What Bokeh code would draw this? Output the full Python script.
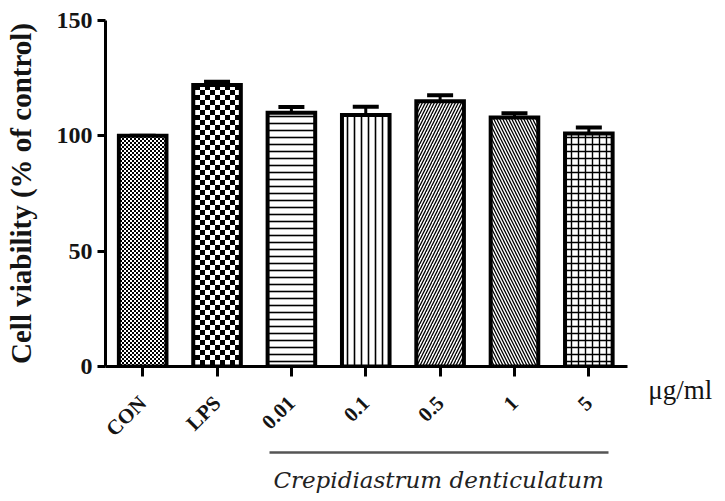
import math, zlib, struct, base64
from bokeh.plotting import figure
from bokeh.models import (ColumnDataSource, Range1d, FixedTicker, Whisker, TeeHead,
                          Label, LinearAxis, ImageURLTexture)
from bokeh.embed import file_html
from bokeh.resources import INLINE

# ---- data ----
categories = ["CON", "LPS", "0.01", "0.1", "0.5", "1", "5"]
viability = [100, 122, 110, 109, 115, 108, 101]
sem = [0, 1.5, 2.5, 3.6, 2.6, 1.8, 2.6]
y_ticks = [0, 50, 100, 150]
unit_label = "μg/ml"
group_label = "Crepidiastrum denticulatum"
group_members = ["0.01", "0.1", "0.5", "1", "5"]

# ---- checker textures (small PNG data URLs) ----
def checker_url(cell):
    n = 2 * cell
    rows = []
    for r in range(n):
        row = bytearray()
        for c in range(n):
            black = ((r // cell) + (c // cell)) % 2 == 0
            row.append(0 if black else 255)
        rows.append(b"\x00" + bytes(row))
    raw = b"".join(rows)
    def chunk(t, d):
        return struct.pack(">I", len(d)) + t + d + struct.pack(">I", zlib.crc32(t + d) & 0xffffffff)
    png = b"\x89PNG\r\n\x1a\n" + chunk(b"IHDR", struct.pack(">IIBBBBB", n, n, 8, 0, 0, 0, 0)) \
        + chunk(b"IDAT", zlib.compress(raw)) + chunk(b"IEND", b"")
    return "data:image/png;base64," + base64.b64encode(png).decode()

x = list(range(len(categories)))
upper = [v + e for v, e in zip(viability, sem)]
patterns = ["fine_check", "big_check", "horizontal_line", "vertical_line",
            "right_diagonal_line", "left_diagonal_line", "cross"]
scales = [6, 6, 7, 7, 6, 6, 7]
weights = [1, 1, 1.6, 1.6, 1.3, 1.3, 1.4]

src = ColumnDataSource(dict(x=x, viability=viability, upper=upper,
                            pat=patterns, hs=scales, hw=weights))

p = figure(width=722, height=498, output_backend="svg", toolbar_location=None,
           x_range=Range1d(-0.5, 6.52), y_range=Range1d(0, 150),
           min_border_left=105, min_border_right=95, min_border_top=20,
           min_border_bottom=132)
p.outline_line_color = None
p.grid.grid_line_color = None
p.background_fill_color = "white"

p.vbar(x="x", top="viability", width=0.64, source=src, fill_color="white",
       line_color="black", line_width=4, line_join="miter",
       hatch_pattern="pat", hatch_scale="hs", hatch_weight="hw", hatch_color="black",
       hatch_extra={"fine_check": ImageURLTexture(url=checker_url(2)),
                    "big_check": ImageURLTexture(url=checker_url(5))})

wh = Whisker(base="x", upper="upper", lower="viability", source=src,
             line_color="black", line_width=3,
             upper_head=TeeHead(size=26, line_width=4, line_color="black"),
             lower_head=None)
p.add_layout(wh)

serif = "Liberation Serif"
txt = "#141414"
# y axis
ya = p.yaxis[0]
ya.ticker = FixedTicker(ticks=y_ticks)
ya.axis_line_width = 3
ya.major_tick_line_width = 3
ya.major_tick_out = 8
ya.major_tick_in = 0
ya.minor_tick_line_color = None
ya.major_label_text_font = serif
ya.major_label_text_font_style = "bold"
ya.major_label_text_font_size = "24px"
ya.major_label_text_color = txt
ya.major_label_standoff = 5
ya.axis_label = "Cell viability (% of control)"
ya.axis_label_text_font = serif
ya.axis_label_text_font_style = "bold"
ya.axis_label_text_font_size = "29px"
ya.axis_label_text_color = txt
ya.axis_label_standoff = 17

# x axis
xa = p.xaxis[0]
xa.ticker = FixedTicker(ticks=x)
xa.major_label_overrides = {i: c for i, c in enumerate(categories)}
xa.axis_line_width = 3
xa.major_tick_line_width = 3
xa.major_tick_out = 10
xa.major_tick_in = 0
xa.minor_tick_line_color = None
xa.major_label_orientation = math.pi / 4
xa.major_label_text_font = serif
xa.major_label_text_font_style = "bold"
xa.major_label_text_font_size = "21px"
xa.major_label_text_color = txt
xa.major_label_standoff = 23

# group underline: a second, tick-less axis bounded to the extract's doses
i0 = categories.index(group_members[0])
i1 = categories.index(group_members[-1])
gax = LinearAxis(ticker=FixedTicker(ticks=[]), bounds=(i0 - 0.3, i1 + 0.26),
                 axis_line_color="#555555", axis_line_width=2.5,
                 major_tick_line_color=None, minor_tick_line_color=None,
                 major_label_text_font_size="0px")
p.add_layout(gax, "below")

# unit label and group name (placed in side panels so they are not clipped)
p.add_layout(Label(x=len(categories) - 0.2, y=-10.4, text=unit_label,
                   text_font=serif, text_font_size="27px", text_color=txt,
                   text_baseline="middle", text_align="left"), "right")
p.add_layout(Label(x=(i0 - 0.3 + i1 + 0.26) / 2, y=-49, text=group_label,
                   text_font="DejaVu Serif", text_font_style="italic",
                   text_font_size="23px", text_color="#222222",
                   text_baseline="middle", text_align="center"), "below")

open("out.html", "w").write(file_html(p, INLINE))
